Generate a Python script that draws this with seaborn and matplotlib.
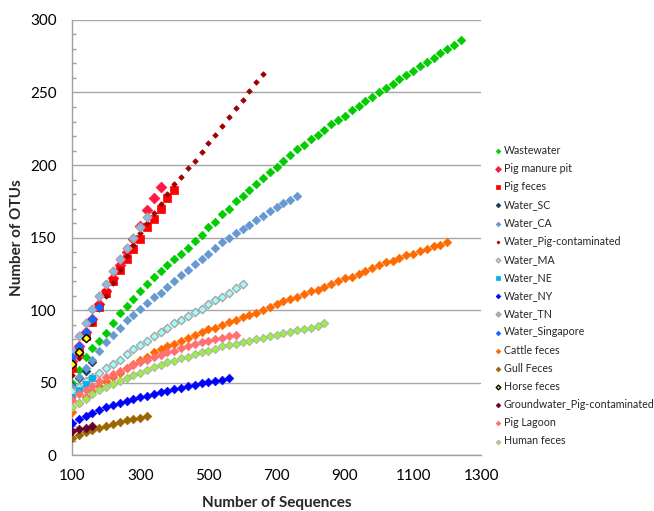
import matplotlib
matplotlib.use('Agg')
import matplotlib.pyplot as plt
import seaborn as sns
from matplotlib.ticker import MultipleLocator

# sequencing depths used for rarefaction (every 20 sequences)
depths = [100, 120, 140, 160, 180, 200, 220, 240, 260, 280, 300, 320, 340, 360, 380, 400,
          420, 440, 460, 480, 500, 520, 540, 560, 580, 600, 620, 640, 660, 680, 700, 720,
          740, 760, 780, 800, 820, 840, 860, 880, 900, 920, 940, 960, 980, 1000, 1020, 1040,
          1060, 1080, 1100, 1120, 1140, 1160, 1180, 1200, 1220, 1240]

wastewater = [50, 59, 68, 74, 79, 84, 91, 98, 103, 108, 113, 118, 123, 127, 131, 135, 139, 143,
              148, 152, 157, 161, 166, 170, 175, 179, 183, 187, 191, 195, 199, 203, 207, 211,
              214, 218, 221, 224, 228, 231, 234, 238, 241, 244, 247, 250, 253, 256, 259, 262,
              265, 268, 271, 274, 277, 280, 283, 286]
pig_manure_pit = [65, 75, 85, 94, 104, 113, 122, 131, 140, 149, 158, 169, 177, 185]
pig_feces = [60, 71, 82, 92, 102, 112, 120, 128, 135, 142, 149, 157, 163, 170, 177, 183]
water_sc = [48, 53, 58, 64]
water_ca = [47, 54, 60, 66, 72, 78, 83, 88, 93, 97, 101, 105, 109, 112, 116, 120, 124, 128,
            132, 135, 139, 143, 147, 150, 153, 156, 159, 162, 165, 168, 171, 174, 176, 179]
water_pig = [55, 67, 80, 91, 101, 110, 119, 128, 137, 145, 153, 160, 167, 173, 180, 187, 192,
             198, 203, 209, 215, 221, 227, 233, 239, 245, 251, 257, 263]
water_ma = [44, 47, 51, 54, 57, 60, 63, 66, 70, 73, 76, 79, 82, 85, 88, 91, 93, 96, 99, 101,
            104, 107, 109, 112, 115, 118]
water_ne = [40, 45, 49, 53]
water_ny = [22, 25, 27, 29, 31, 33, 34.5, 36, 37.5, 39, 40, 41, 42.5, 43.5, 44.5, 45.5, 46.5,
            47.5, 48.5, 49.5, 50.5, 51, 52, 53]
water_tn = [72, 82, 91, 101, 110, 118, 127, 135, 143, 150, 157, 164]
water_singapore = [68, 75, 85, 94, 102]
cattle_feces = [30, 36, 40, 44, 48, 51, 54, 57, 60, 63, 66, 68, 71, 73, 75, 77, 79, 81, 83, 85,
                87, 88, 90, 92, 93, 95, 97, 98, 100, 102, 104, 106, 108, 109, 111, 113, 114,
                116, 118, 120, 122, 123, 125, 127, 129, 131, 133, 134, 136, 138, 139, 141, 142,
                144, 145, 147]
gull_feces = [12, 14, 16, 17.5, 19, 20, 21.5, 23, 24, 25, 26, 27]
horse_feces = [63, 71, 81]
groundwater_pig = [17, 18, 19, 20]
pig_lagoon = [38, 42, 45, 48, 51, 54, 56, 58, 60, 62, 64, 66, 68, 69, 71, 72, 74, 75, 77, 78,
              79, 80, 81, 82, 83]
human_feces = [33, 36, 39, 42, 45, 47, 49, 51, 53, 55, 57, 59, 61, 62, 64, 65, 67, 68, 70, 71,
               72, 73, 75, 76, 77, 78, 79, 80, 81, 82, 83, 84, 85, 86, 87, 88, 89, 91]

# name, values, marker, size, face, edge, edge width
series = [
    ('Wastewater', wastewater, 'D', 19, '#00CC00', '#00CC00', 0.5),
    ('Pig manure pit', pig_manure_pit, 'D', 30, '#FF1744', '#FF1744', 0.5),
    ('Pig feces', pig_feces, 's', 38, '#FF0000', '#FF0000', 0.5),
    ('Water_SC', water_sc, 'D', 19, '#17375E', '#17375E', 0.5),
    ('Water_CA', water_ca, 'D', 19, '#6699D2', '#6699D2', 0.5),
    ('Water_Pig-contaminated', water_pig, 'D', 8, '#A00000', '#A00000', 0.5),
    ('Water_MA', water_ma, 'D', 18, '#99FFFF', '#A6A6A6', 1.0),
    ('Water_NE', water_ne, 's', 22, '#00B0F0', '#00B0F0', 0.5),
    ('Water_NY', water_ny, 'D', 19, '#0000FF', '#0000FF', 0.5),
    ('Water_TN', water_tn, 'D', 20, '#8DB9EC', '#A6A6A6', 1.0),
    ('Water_Singapore', water_singapore, 'D', 19, '#0A6CFF', '#0A6CFF', 0.5),
    ('Cattle feces', cattle_feces, 'D', 19, '#FF6A00', '#FF6A00', 0.5),
    ('Gull Feces', gull_feces, 'D', 19, '#9C6500', '#9C6500', 0.5),
    ('Horse feces', horse_feces, 'D', 18, '#FFFF00', '#000000', 1.0),
    ('Groundwater_Pig-contaminated', groundwater_pig, 'D', 19, '#660033', '#660033', 0.5),
    ('Pig Lagoon', pig_lagoon, 'D', 19, '#FF7070', '#FF7070', 0.5),
    ('Human feces', human_feces, 'D', 18, '#99F03C', '#B0B0B0', 0.7),
]

sns.set_style('white')
plt.rcParams['font.family'] = ['Lato', 'DejaVu Sans']

fig = plt.figure(figsize=(6.54, 5.11), dpi=100)
ax = fig.add_axes([0.110, 0.109, 0.626, 0.852])

for name, vals, mk, sz, face, edge, lw in series:
    sns.scatterplot(x=depths[:len(vals)], y=vals, ax=ax, marker=mk, s=sz, color=face,
                    edgecolor=edge, linewidth=lw, label=name, zorder=3)

ax.set_xlim(100, 1300)
ax.set_ylim(0, 300)
ax.set_xticks([100, 300, 500, 700, 900, 1100, 1300])
ax.set_yticks([0, 50, 100, 150, 200, 250, 300])
ax.yaxis.set_minor_locator(MultipleLocator(10))
ax.yaxis.grid(True, color='#A6A6A6', linewidth=1.0, zorder=0)
ax.set_axisbelow(True)

for side in ['top', 'right']:
    ax.spines[side].set_visible(False)
for side in ['left', 'bottom']:
    ax.spines[side].set_color('#A0A0A0')
    ax.spines[side].set_linewidth(1.0)

ax.tick_params(axis='both', which='major', direction='out', length=3, width=1,
               color='#A0A0A0', labelsize=11, labelcolor='black')
ax.tick_params(axis='y', which='major', pad=8)
ax.tick_params(axis='x', which='major', pad=7)
ax.tick_params(axis='y', which='minor', direction='in', length=3, width=1, color='#A0A0A0',
               left=True)

ax.set_xlabel('Number of Sequences', fontsize=11, fontweight='bold', labelpad=9)
ax.set_ylabel('Number of OTUs', fontsize=11, fontweight='bold', labelpad=4)

ax.legend(loc='upper left', bbox_to_anchor=(0.746, 0.725), bbox_transform=fig.transFigure,
          frameon=False, fontsize=7.7, markerscale=0.55, handletextpad=0.1,
          labelspacing=0.67, borderaxespad=0, handlelength=1.0)

plt.savefig('out.png', dpi=100)
